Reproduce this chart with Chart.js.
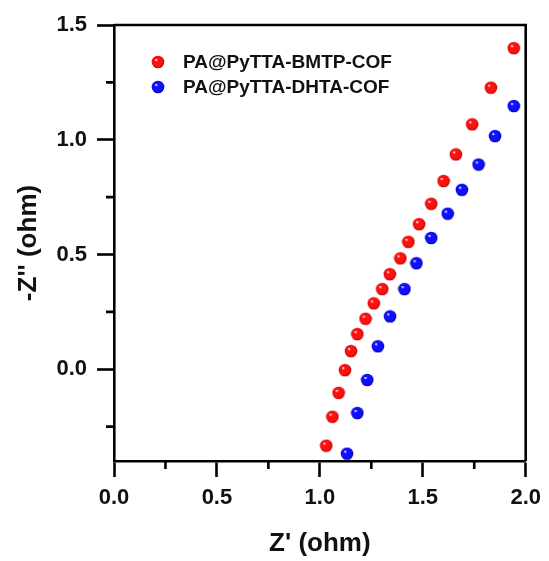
<!DOCTYPE html>
<html>
<head>
<meta charset="utf-8">
<script src="https://cdn.jsdelivr.net/npm/chart.js@4/dist/chart.umd.min.js"></script>
<style>
  html, body { margin: 0; padding: 0; background: #fff; }
  #wrap { width: 549px; height: 561px; }
</style>
</head>
<body>
<div id="wrap"><canvas id="c" width="549" height="561"></canvas></div>
<script>
// Nyquist data: Z' (ohm) vs -Z'' (ohm)
const seriesNames = ['PA@PyTTA-BMTP-COF', 'PA@PyTTA-DHTA-COF'];

const bmtpZre = [1.031, 1.061, 1.091, 1.122, 1.151, 1.182, 1.222, 1.262, 1.303, 1.340,
                 1.391, 1.430, 1.482, 1.541, 1.601, 1.661, 1.740, 1.831, 1.942];
const bmtpZim = [-0.333, -0.207, -0.103, -0.004, 0.079, 0.153, 0.220, 0.287, 0.349, 0.414,
                 0.483, 0.555, 0.632, 0.721, 0.820, 0.936, 1.067, 1.227, 1.399];

const dhtaZre = [1.132, 1.182, 1.230, 1.282, 1.341, 1.411, 1.469, 1.541, 1.621, 1.690,
                 1.771, 1.851, 1.942];
const dhtaZim = [-0.368, -0.191, -0.047, 0.100, 0.230, 0.349, 0.462, 0.572, 0.678, 0.782,
                 0.892, 1.016, 1.147];

const xTicks = [0.0, 0.5, 1.0, 1.5, 2.0];
const yTicks = [0.0, 0.5, 1.0, 1.5];
const xMinor = [0.25, 0.75, 1.25, 1.75];
const yMinor = [-0.25, 0.25, 0.75, 1.25];

// Glossy sphere marker
function sphere(base, dark) {
  const s = 14, r = 6.3;
  const cv = document.createElement('canvas');
  cv.width = s; cv.height = s;
  const g = cv.getContext('2d');
  const grad = g.createRadialGradient(s / 2 - 2, s / 2 - 2.3, 0.3, s / 2, s / 2, r);
  grad.addColorStop(0, '#ffffff');
  grad.addColorStop(0.22, base);
  grad.addColorStop(0.75, base);
  grad.addColorStop(1, dark);
  g.fillStyle = grad;
  g.beginPath();
  g.arc(s / 2, s / 2, r, 0, Math.PI * 2);
  g.fill();
  return cv;
}
const redBall = sphere('#ff1010', '#c00000');
const blueBall = sphere('#1010ff', '#0000b0');

const toPts = (xs, ys) => xs.map((x, i) => ({ x: x, y: ys[i] }));

const fontFam = '"Liberation Sans", Arial, Helvetica, sans-serif';

// Frame, minor ticks and in-plot legend
const decor = {
  id: 'decor',
  afterDraw(chart) {
    const { ctx, chartArea: a, scales: { x, y } } = chart;
    ctx.save();
    ctx.strokeStyle = '#000';
    ctx.lineWidth = 2.6;
    ctx.beginPath();
    ctx.moveTo(a.left, a.top); ctx.lineTo(a.right, a.top); ctx.lineTo(a.right, a.bottom);
    ctx.stroke();
    ctx.beginPath();
    xMinor.forEach(v => {
      const px = x.getPixelForValue(v);
      ctx.moveTo(px, a.bottom); ctx.lineTo(px, a.bottom + 8);
    });
    yMinor.forEach(v => {
      const py = y.getPixelForValue(v);
      ctx.moveTo(a.left, py); ctx.lineTo(a.left - 8, py);
    });
    ctx.stroke();

    // legend
    const balls = [redBall, blueBall];
    ctx.font = 'bold 19px ' + fontFam;
    ctx.fillStyle = '#111';
    ctx.textBaseline = 'middle';
    ctx.textAlign = 'left';
    chart.data.datasets.forEach((ds, i) => {
      const cy = 62 + i * 25;
      ctx.drawImage(balls[i], 158 - 7, cy - 7);
      ctx.fillText(ds.label, 183, cy + 1);
    });
    ctx.restore();
  }
};

new Chart(document.getElementById('c'), {
  type: 'scatter',
  data: {
    datasets: [
      { label: seriesNames[0], data: toPts(bmtpZre, bmtpZim), pointStyle: redBall, pointRadius: 7, backgroundColor: '#ff0000' },
      { label: seriesNames[1], data: toPts(dhtaZre, dhtaZim), pointStyle: blueBall, pointRadius: 7, backgroundColor: '#0000ff' }
    ]
  },
  options: {
    responsive: false,
    animation: false,
    clip: false,
    layout: { padding: { left: 0, top: 25, right: 22, bottom: 0 } },
    plugins: { legend: { display: false }, tooltip: { enabled: false } },
    scales: {
      x: {
        type: 'linear', min: 0, max: 2,
        afterBuildTicks: s => { s.ticks = xTicks.map(v => ({ value: v })); },
        afterFit: s => { s.height = 100; },
        border: { display: true, color: '#000', width: 2.6 },
        grid: { drawOnChartArea: false, drawTicks: true, tickLength: 16, tickWidth: 2.6, tickColor: '#000' },
        ticks: { color: '#111', padding: 8, font: { family: fontFam, size: 22, weight: 'bold' }, callback: v => v.toFixed(1), maxRotation: 0 },
        title: { display: true, text: "Z' (ohm)", color: '#111', padding: { top: 0, bottom: 2 }, font: { family: fontFam, size: 26, weight: 'bold' } }
      },
      y: {
        type: 'linear', min: -0.4, max: 1.5,
        afterBuildTicks: s => { s.ticks = yTicks.map(v => ({ value: v })); },
        afterFit: s => { s.width = 114; },
        border: { display: true, color: '#000', width: 2.6 },
        grid: { drawOnChartArea: false, drawTicks: true, tickLength: 17, tickWidth: 2.6, tickColor: '#000' },
        ticks: { color: '#111', padding: 10, font: { family: fontFam, size: 22, weight: 'bold' }, callback: v => v.toFixed(1) },
        title: { display: true, text: "-Z'' (ohm)", color: '#111', padding: { top: 13, bottom: 0 }, font: { family: fontFam, size: 26, weight: 'bold' } }
      }
    }
  },
  plugins: [decor]
});
</script>
</body>
</html>
